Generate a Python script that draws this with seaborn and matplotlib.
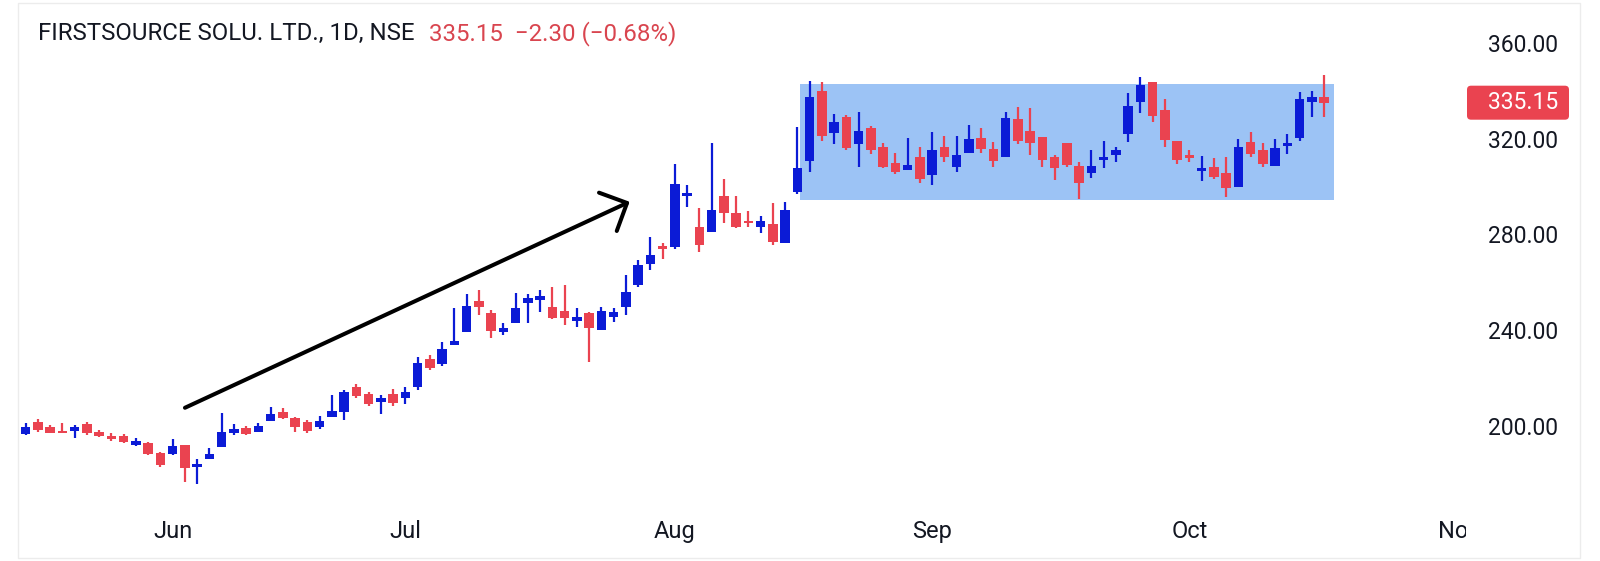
import numpy as np
import pandas as pd
import seaborn as sns
import matplotlib.pyplot as plt
from matplotlib.patches import Rectangle, FancyBboxPatch

# daily candles (mid May -> mid Oct)
open_ = [196.5, 201.4, 199.6, 197.5, 197.9, 200.7, 197.2, 195.7, 195.7, 191.9,
         192.6, 188.4, 188.2, 191.9, 182.9, 186.1, 191.0, 197.1, 198.9, 197.5,
         202.1, 205.9, 203.1, 201.7, 199.3, 203.8, 205.9, 216.3, 213.3, 210.0,
         213.4, 211.4, 216.3, 228.0, 225.8, 233.8, 239.3, 252.3, 247.3, 239.3,
         242.8, 251.2, 252.8, 249.8, 248.1, 244.0, 247.0, 240.0, 245.6, 249.5,
         258.9, 267.6, 275.2, 274.6, 296.1, 283.0, 281.2, 296.1, 289.1, 285.8,
         283.2, 284.3, 276.6, 297.9, 310.9, 340.2, 322.3, 329.3, 317.8, 324.7,
         316.5, 310.0, 307.0, 312.3, 304.9, 316.5, 308.1, 314.2, 320.2, 315.6,
         312.5, 328.2, 323.3, 320.6, 312.3, 318.4, 308.7, 305.9, 311.2, 313.2,
         322.0, 335.6, 343.9, 332.1, 319.2, 312.8, 306.7, 308.4, 305.6, 299.7,
         318.8, 315.3, 308.7, 317.0, 320.2, 335.6, 337.4]
high = [201.3, 202.7, 200.3, 201.3, 200.3, 201.7, 198.2, 196.8, 196.5, 194.7,
        193.3, 189.1, 194.3, 191.9, 186.2, 190.7, 205.2, 200.7, 199.9, 201.3,
        207.7, 207.3, 203.8, 202.4, 204.1, 212.8, 214.9, 217.4, 214.0, 213.0,
        215.2, 216.3, 228.9, 229.6, 235.1, 249.1, 254.9, 256.6, 248.4, 242.8,
        255.6, 254.9, 256.8, 258.2, 258.9, 249.1, 247.7, 249.8, 249.1, 263.0,
        269.3, 279.1, 276.3, 309.5, 300.7, 290.9, 318.1, 303.1, 296.1, 290.0,
        287.7, 293.3, 293.7, 325.1, 344.4, 343.9, 330.3, 330.0, 331.4, 325.4,
        318.1, 313.9, 320.2, 316.5, 323.0, 321.2, 321.2, 325.8, 324.4, 318.8,
        331.4, 333.5, 332.8, 320.6, 313.2, 318.4, 310.5, 315.3, 319.2, 316.5,
        339.1, 345.8, 343.9, 336.5, 319.2, 315.3, 312.8, 311.9, 312.6, 319.8,
        323.0, 318.1, 319.8, 322.0, 339.7, 340.2, 346.7]
low = [196.2, 197.5, 196.8, 196.8, 194.7, 196.1, 195.1, 193.7, 192.9, 191.6,
       187.7, 182.9, 187.7, 176.6, 175.8, 186.1, 191.0, 196.1, 196.3, 197.5,
       202.1, 202.7, 197.5, 197.1, 198.5, 203.8, 202.4, 211.6, 208.2, 204.7,
       208.2, 208.9, 214.9, 223.3, 225.0, 233.8, 239.3, 246.3, 236.5, 237.9,
       242.8, 243.1, 247.7, 244.5, 242.1, 241.4, 226.8, 240.0, 243.5, 246.3,
       258.2, 265.1, 269.6, 273.8, 291.6, 272.8, 281.2, 284.7, 282.6, 283.2,
       280.5, 275.6, 276.6, 296.9, 306.3, 319.2, 317.8, 315.3, 308.4, 313.7,
       307.7, 305.3, 307.0, 301.4, 300.7, 310.5, 306.3, 314.2, 314.2, 308.4,
       312.5, 317.8, 313.2, 308.4, 302.8, 308.1, 294.7, 303.5, 307.7, 310.5,
       318.8, 331.0, 327.2, 316.5, 309.5, 310.5, 302.5, 303.1, 295.5, 299.7,
       312.6, 308.1, 308.7, 313.7, 319.2, 329.0, 329.0]
close = [199.6, 198.2, 197.1, 196.9, 199.6, 196.8, 195.8, 194.3, 193.3, 193.7,
         188.2, 183.6, 191.5, 182.1, 183.9, 188.3, 197.2, 198.5, 196.7, 199.9,
         204.7, 203.1, 199.6, 197.9, 202.1, 206.3, 214.2, 212.4, 208.9, 211.4,
         209.6, 214.2, 226.3, 224.0, 232.3, 235.6, 250.1, 249.8, 239.8, 240.7,
         249.1, 253.3, 254.2, 244.9, 244.9, 245.3, 240.7, 248.1, 247.7, 256.1,
         267.2, 271.4, 273.8, 301.1, 297.5, 275.6, 290.2, 289.1, 283.2, 284.7,
         285.8, 277.0, 290.2, 307.7, 337.7, 321.2, 327.2, 316.0, 323.4, 315.3,
         308.4, 306.3, 309.1, 303.1, 315.3, 312.3, 313.2, 319.8, 315.6, 310.9,
         328.9, 319.2, 318.4, 311.2, 307.7, 309.1, 301.7, 308.7, 312.6, 315.3,
         333.8, 342.6, 329.6, 319.5, 311.2, 312.1, 307.7, 303.9, 299.3, 316.5,
         313.7, 309.5, 316.0, 318.4, 336.5, 337.45, 335.15]

month_labels = ["Jun", "Jul", "Aug", "Sep", "Oct", "Nov"]
bars_before_june = 12
bars_per_month = [19, 22, 21, 21, 22]

price_ticks = [200, 240, 280, 320, 360]

title_name = "FIRSTSOURCE SOLU. LTD., 1D, NSE"
title_quote = "335.15  \u22122.30 (\u22120.68%)"

# consolidation box and trend arrow (bar index, price)
range_start, range_end = 63.2, 106.8
range_bottom, range_top = 294.4, 343.0
arrow_from = (13.0, 207.5)
arrow_to = (49.3, 293.7)

UP = "#0b1bd6"
DOWN = "#ea4350"
TEXT = "#131722"

df = pd.DataFrame({"open": open_, "high": high, "low": low, "close": close})
df["up"] = df["close"] >= df["open"]
colors = np.where(df["up"], UP, DOWN)

sns.set_theme(style="white")
plt.rcParams["font.family"] = ["Roboto", "DejaVu Sans"]

W, H = 1600, 561
fig = plt.figure(figsize=(W / 100, H / 100), dpi=100)
fig.set_facecolor("white")

# chart pane, full height so pixel rows map straight to prices
ax = fig.add_axes([20 / W, 0, 1446 / W, 1])
px_per_unit = 2.39
y200 = 425.7
ylim = (200 - (H - y200) / px_per_unit, 200 + y200 / px_per_unit)
bar_px, first_px = 12.25, 25.7
ax.set_xlim((20 - first_px) / bar_px, (1466 - first_px) / bar_px)
ax.set_ylim(*ylim)

ax.add_patch(Rectangle((range_start, range_bottom), range_end - range_start,
                       range_top - range_bottom, facecolor="#9cc3f5",
                       edgecolor="none", zorder=1))

ax.vlines(df.index, df["low"], df["high"], colors=colors, lw=1.6, zorder=2)
body = np.maximum((df["close"] - df["open"]).abs(), 1.0)
ax.bar(df.index, body, bottom=np.minimum(df["open"], df["close"]),
       width=0.78, color=colors, zorder=3, linewidth=0)

ax.annotate("", xy=arrow_to, xytext=arrow_from,
            arrowprops=dict(arrowstyle="->,head_length=0.4,head_width=0.4",
                            lw=2.9, color="black", mutation_scale=38,
                            shrinkA=0, shrinkB=0), zorder=4)

month_pos = np.cumsum([bars_before_june] + bars_per_month)
ax.set_xticks(month_pos, month_labels, va="center")
ax.tick_params(axis="x", length=0, pad=-20.9, labelsize=17, labelcolor=TEXT)
ax.set_yticks([])
sns.despine(ax=ax, left=True, bottom=True)
ax.set_facecolor("white")

# price scale column on the right
ax2 = fig.add_axes([1466 / W, 0, (W - 1466) / W, 1])
ax2.set_zorder(2)
ax2.set_facecolor("white")
ax2.set_xlim(1466, W)
ax2.set_ylim(*ylim)
ax2.set_xticks([])
ax2.set_yticks(price_ticks, [f"{p:.2f}" for p in price_ticks])
ax2.tick_params(axis="y", length=0, pad=-66.2, labelsize=16.5, labelcolor=TEXT)
sns.despine(ax=ax2, left=True, bottom=True)

last = close[-1]
half = 17 / px_per_unit
ax2.add_patch(FancyBboxPatch((1467, last - half), 102, 2 * half,
                             boxstyle="round,pad=0,rounding_size=4",
                             mutation_aspect=1 / px_per_unit,
                             facecolor=DOWN, edgecolor="none"))
ax2.text(1558, last, f"{last:.2f}", ha="right", va="center", color="white",
         fontsize=16.5)

# header
fig.text(38 / W, 1 - 33.5 / H, title_name, fontsize=17.3, color=TEXT, va="center")
fig.text(428.6 / W, 1 - 33.5 / H, title_quote, fontsize=17.3, color="#d9454f",
         va="center")

fig.patches.append(Rectangle((18 / W, 3 / H), 1562 / W, 555 / H, fill=False,
                             edgecolor="#ececec", lw=1, zorder=5,
                             transform=fig.transFigure, figure=fig))

fig.savefig("out.png", dpi=100)
